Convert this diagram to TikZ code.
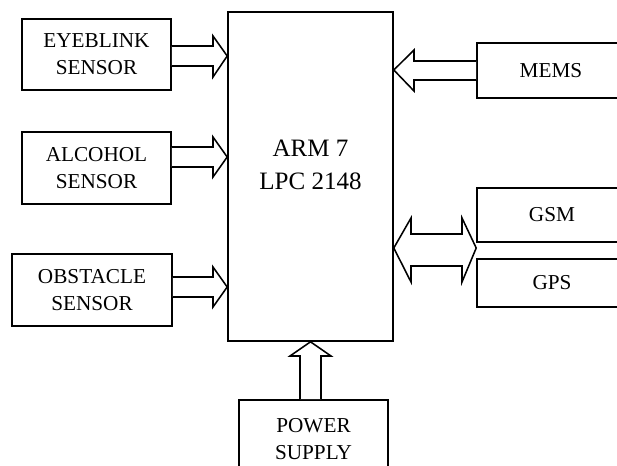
\documentclass[tikz,border=0pt]{standalone}
\usepackage{fontspec}
\setmainfont{Liberation Serif}

\tikzset{
  blk/.style={draw, rectangle, line width=1.1pt, align=center, font=\fontsize{15.1}{19.2}\selectfont},
  barrow/.style={draw, line width=1.1pt, line join=miter, fill=white}
}

\begin{document}
\begin{tikzpicture}[x=0.025cm,y=-0.025cm]
\useasboundingbox (0,0) rectangle (617,466);
\clip (0,0) rectangle (617,466);

\node[blk, minimum width=4.125cm, minimum height=8.225cm] (arm) at (310.5,176.5) {};
\node[align=center, font=\fontsize{17.8}{23.5}\selectfont] (armlbl) at (310.5,164.5) {ARM 7\\LPC 2148};

\node[blk, minimum width=3.725cm, minimum height=1.775cm] (eye) at (96.5,54.5) {EYEBLINK\\SENSOR};
\node[blk, minimum width=3.725cm, minimum height=1.8cm] (alc) at (96.5,168) {ALCOHOL\\SENSOR};
\node[blk, minimum width=4cm, minimum height=1.8cm] (obs) at (92,290) {OBSTACLE\\SENSOR};

\node[blk, minimum width=3.7cm, minimum height=1.375cm] (mems) at (551,70.5) {MEMS};
\node[blk, minimum width=3.75cm, minimum height=1.35cm] (gsm) at (552,215) {GSM};
\node[blk, minimum width=3.75cm, minimum height=1.2cm] (gps) at (552,283) {GPS};

\node[blk, minimum width=3.725cm, minimum height=1.95cm] (pwr) at (313.5,439) {POWER\\SUPPLY};

% sensors into the controller
\draw[barrow] (eye.east |- 0,46) -- (213,46) -- (213,36) -- (arm.west |- 0,56) -- (213,77) -- (213,66) -- (eye.east |- 0,66);
\draw[barrow] (alc.east |- 0,147) -- (213,147) -- (213,137) -- (arm.west |- 0,157) -- (213,177) -- (213,167) -- (alc.east |- 0,167);
\draw[barrow] (obs.east |- 0,277) -- (213,277) -- (213,267) -- (arm.west |- 0,287) -- (213,307) -- (213,297) -- (obs.east |- 0,297);

% mems into the controller
\draw[barrow] (mems.west |- 0,61) -- (414,61) -- (414,50) -- (arm.east |- 0,70) -- (414,91) -- (414,80) -- (mems.west |- 0,80);

% gsm / gps both ways
\draw[barrow] (arm.east |- 0,248) -- (411,218) -- (411,234) -- (462,234) -- (462,218) -- (gsm.south west |- 0,248) -- (462,282) -- (462,266) -- (411,266) -- (411,282) -- cycle;

% supply
\draw[barrow] (300,0 |- pwr.north) -- (300,356) -- (290,356) -- (arm.south) -- (331,356) -- (321,356) -- (321,0 |- pwr.north);
\end{tikzpicture}
\end{document}
